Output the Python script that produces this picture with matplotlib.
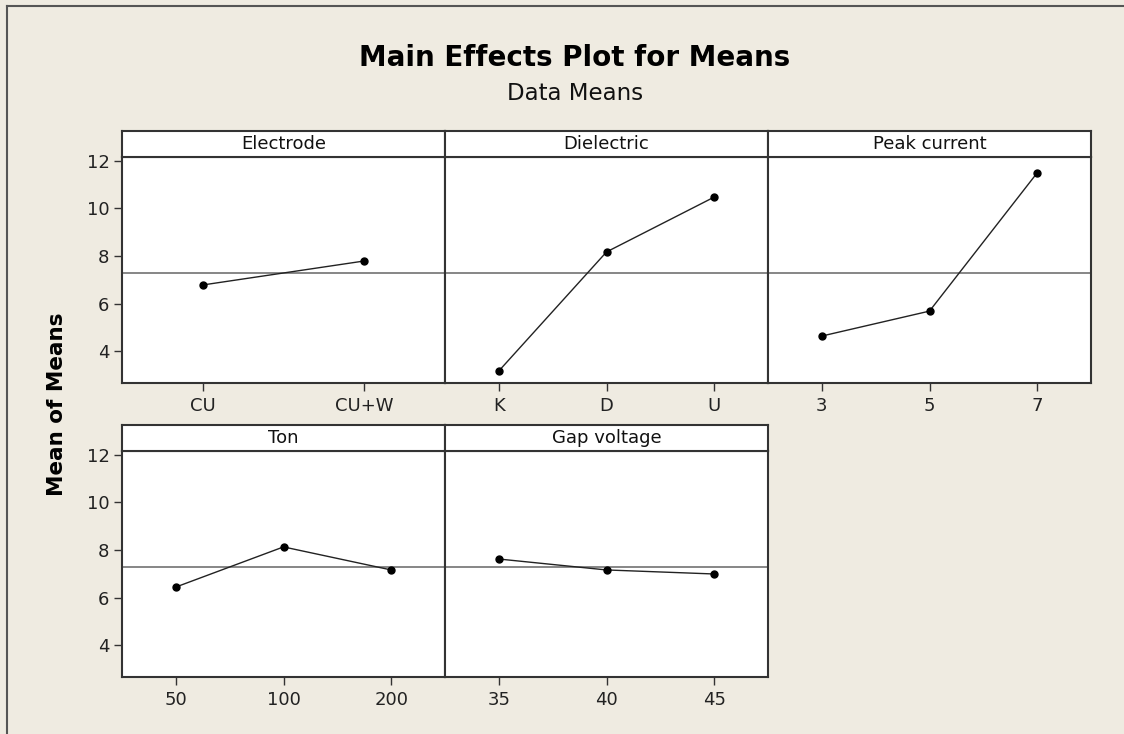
import matplotlib
matplotlib.use('Agg')
import matplotlib.pyplot as plt
from matplotlib.lines import Line2D

# ---- data ----
electrode_levels = ['CU', 'CU+W']
electrode_means = [6.78, 7.79]
dielectric_levels = ['K', 'D', 'U']
dielectric_means = [3.16, 8.17, 10.48]
peak_levels = ['3', '5', '7']
peak_means = [4.63, 5.68, 11.50]
ton_levels = ['50', '100', '200']
ton_means = [6.44, 8.13, 7.16]
gap_levels = ['35', '40', '45']
gap_means = [7.62, 7.16, 6.99]
factor_names = ['Electrode', 'Dielectric', 'Peak current', 'Ton', 'Gap voltage']
grand_mean = 7.27
y_ticks = [4, 6, 8, 10, 12]

W, H = 1124, 734
BG = '#efebe1'
fig = plt.figure(figsize=(W / 100, H / 100), dpi=100, facecolor=BG)

def box(x0, y0, x1, y1):
    return [x0 / W, 1 - y1 / H, (x1 - x0) / W, (y1 - y0) / H]

# frame lines
fig.add_artist(Line2D([7 / W, 7 / W], [0, 1 - 6 / H], color='#555555', lw=1.5,
                      transform=fig.transFigure))
fig.add_artist(Line2D([7 / W, 1], [1 - 6 / H, 1 - 6 / H], color='#555555', lw=1.5,
                      transform=fig.transFigure))

panels = [
    (electrode_levels, electrode_means, 0, 0),
    (dielectric_levels, dielectric_means, 0, 1),
    (peak_levels, peak_means, 0, 2),
    (ton_levels, ton_means, 1, 0),
    (gap_levels, gap_means, 1, 1),
]
col_x = [122, 445, 768, 1091]
row_y = [(131, 157, 383), (425, 451, 677)]
spine_c = '#333333'

for i, (levels, means, r, c) in enumerate(panels):
    x0, x1 = col_x[c], col_x[c + 1]
    ys, yd, yb = row_y[r]
    ax = fig.add_axes(box(x0, yd, x1, yb))
    ax.set_facecolor('white')
    n = len(levels)
    xs = list(range(1, n + 1))
    ax.axhline(grand_mean, color='#666666', lw=1.1, zorder=1)
    ax.plot(xs, means, '-', color='#222222', lw=1.0, zorder=2)
    ax.plot(xs, means, 'o', color='black', ms=5, zorder=3)
    ax.set_xlim(0.5, n + 0.5)
    ax.set_ylim(2.653, 12.168)
    ax.set_xticks(xs)
    ax.set_xticklabels(levels, fontsize=13, color='#222222')
    ax.tick_params(axis='x', length=6, width=1, color='#333333', pad=4, direction='out')
    ax.set_yticks(y_ticks)
    if c == 0:
        ax.set_yticklabels([str(t) for t in y_ticks], fontsize=13, color='#222222')
        ax.tick_params(axis='y', length=6, width=1, color='#333333', pad=3, direction='out')
    else:
        ax.tick_params(axis='y', length=0, labelleft=False)
    for s in ax.spines.values():
        s.set_color(spine_c)
        s.set_linewidth(1.5)
    # strip
    sax = fig.add_axes(box(x0, ys, x1, yd))
    sax.set_facecolor('white')
    sax.set_xticks([])
    sax.set_yticks([])
    for s in sax.spines.values():
        s.set_color(spine_c)
        s.set_linewidth(1.5)
    sax.text(0.5, 0.5, factor_names[i], ha='center', va='center', fontsize=13,
             color='#111111', transform=sax.transAxes)

fig.text(575 / W, 1 - 58 / H, 'Main Effects Plot for Means', ha='center', va='center',
         fontsize=20, fontweight='bold', color='black')
fig.text(575 / W, 1 - 93 / H, 'Data Means', ha='center', va='center',
         fontsize=16.5, color='#111111')
fig.text(57 / W, 1 - 404 / H, 'Mean of Means', ha='center', va='center', rotation=90,
         fontsize=15.5, fontweight='bold', color='black')

fig.savefig('out.png', dpi=100, facecolor=BG)
